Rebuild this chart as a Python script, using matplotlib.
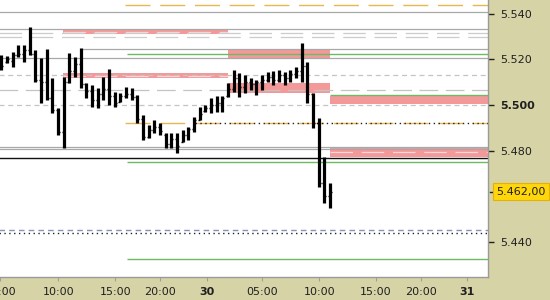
import numpy as np
import matplotlib.pyplot as plt

# bar data (30 min bars)
highs = [5.5219, 5.5215, 5.5232, 5.5263, 5.5263, 5.5342, 5.5241, 5.5206, 5.5245, 5.5118,
         5.4987, 5.5123, 5.5228, 5.5210, 5.5250, 5.5096, 5.5088, 5.5074, 5.5123, 5.5158,
         5.5057, 5.5053, 5.5079, 5.5074, 5.5044, 5.4956, 5.4912, 5.4934, 5.4921, 5.4877,
         5.4877, 5.4877, 5.4890, 5.4904, 5.4947, 5.4991, 5.5000, 5.5031, 5.5039, 5.5039,
         5.5096, 5.5153, 5.5140, 5.5131, 5.5118, 5.5110, 5.5131, 5.5145, 5.5149, 5.5153,
         5.5145, 5.5153, 5.5166, 5.5272, 5.5188, 5.5053, 5.4943, 5.4772, 5.4658]
lows = [5.5153, 5.5184, 5.5166, 5.5210, 5.5188, 5.5219, 5.5101, 5.5009, 5.5022, 5.4965,
        5.4869, 5.4812, 5.5096, 5.5123, 5.5074, 5.5031, 5.4991, 5.4987, 5.5022, 5.5000,
        5.4991, 5.5013, 5.5031, 5.5022, 5.4921, 5.4847, 5.4855, 5.4877, 5.4869, 5.4812,
        5.4812, 5.4790, 5.4838, 5.4847, 5.4882, 5.4934, 5.4969, 5.4965, 5.4969, 5.4969,
        5.5035, 5.5057, 5.5035, 5.5053, 5.5066, 5.5044, 5.5066, 5.5101, 5.5088, 5.5101,
        5.5088, 5.5101, 5.5118, 5.5101, 5.5009, 5.4899, 5.4641, 5.4571, 5.4549]
opens = [5.5190, 5.5190, 5.5195, 5.5220, 5.5225, 5.5240, 5.5225, 5.5110, 5.5100, 5.5030,
         5.4980, 5.4880, 5.5100, 5.5150, 5.5180, 5.5090, 5.5060, 5.5020, 5.5050, 5.5070,
         5.5040, 5.5015, 5.5040, 5.5050, 5.5035, 5.4940, 5.4860, 5.4890, 5.4905, 5.4870,
         5.4830, 5.4850, 5.4840, 5.4870, 5.4895, 5.4935, 5.4975, 5.4985, 5.5000, 5.5010,
         5.5040, 5.5070, 5.5120, 5.5080, 5.5100, 5.5090, 5.5100, 5.5110, 5.5125, 5.5110,
         5.5130, 5.5120, 5.5135, 5.5150, 5.5170, 5.5050, 5.4920, 5.4660, 5.4600]
closes = [5.5170, 5.5200, 5.5220, 5.5225, 5.5240, 5.5225, 5.5110, 5.5100, 5.5030, 5.4980,
          5.4880, 5.5100, 5.5150, 5.5180, 5.5090, 5.5060, 5.5020, 5.5050, 5.5070, 5.5040,
          5.5010, 5.5040, 5.5050, 5.5035, 5.4940, 5.4860, 5.4890, 5.4905, 5.4885, 5.4830,
          5.4850, 5.4820, 5.4870, 5.4895, 5.4935, 5.4960, 5.4985, 5.5000, 5.5010, 5.5030,
          5.5070, 5.5120, 5.5080, 5.5100, 5.5090, 5.5100, 5.5110, 5.5125, 5.5110, 5.5130,
          5.5120, 5.5135, 5.5150, 5.5170, 5.5050, 5.4920, 5.4660, 5.4600, 5.4620]

tick_pos = [-0.18, 10.05, 20.1, 28.0, 36.2, 45.9, 56.1, 66.1, 74.1, 82.2]
tick_labels = ['05:00', '10:00', '15:00', '20:00', '30', '05:00', '10:00', '15:00', '20:00', '31']
bold_labels = ['30', '31']

price_ticks = [5.440, 5.480, 5.500, 5.520, 5.540]
last_price = 5.462

# supply / demand zones
zone_lo = [5.5310, 5.5118, 5.5204, 5.5053, 5.5004, 5.4772]
zone_hi = [5.5330, 5.5140, 5.5247, 5.5096, 5.5039, 5.4816]
zone_start = [10.9, 10.9, 40.0, 40.0, 58.0, 58.0]
zone_end = [40.0, 40.0, 58.0, 58.0, 86.0, 86.0]
zone_inner = [True, True, False, False, False, True]

# horizontal levels
level_price = [5.5438, 5.5409, 5.5333, 5.5314, 5.5299, 5.5245, 5.5223, 5.5206, 5.5131,
               5.5066, 5.5044, 5.5000, 5.4921, 5.4921, 5.4818, 5.4807, 5.4768, 5.4750,
               5.4452, 5.4439, 5.4325]
level_start = [21.8, -1, -1, -1, -1, 14.2, 22.2, -1, -1,
               -1, 58.0, -1, 21.8, 34.2, -1, -1, -1, 22.2,
               -1, -1, 22.2]
level_kind = ['orange', 'gray', 'gray', 'ldash', 'ldash', 'gray', 'green', 'gray', 'sdash',
              'longdash', 'green', 'sdash', 'orange', 'dot', 'gray', 'gray', 'black', 'green',
              'blue', 'dot', 'green']

styles = {
    'orange': dict(color='#e8b850', lw=1.0, ls=(0, (18, 7))),
    'gray': dict(color='#a8a8a8', lw=0.9, ls='-'),
    'ldash': dict(color='#cccccc', lw=0.9, ls=(0, (18, 7))),
    'green': dict(color='#6cbb62', lw=1.0, ls='-'),
    'sdash': dict(color='#c4c4c4', lw=0.9, ls=(0, (4, 3))),
    'longdash': dict(color='#c4c4c4', lw=0.9, ls=(0, (15, 6))),
    'dot': dict(color='#202020', lw=1.0, ls=(0, (1, 2.5))),
    'black': dict(color='#111111', lw=1.0, ls='-'),
    'blue': dict(color='#8593b4', lw=1.0, ls=(0, (4, 3))),
}

bg = '#d6d3a6'
fig = plt.figure(figsize=(5.5, 3), dpi=100, facecolor=bg)
ax = fig.add_axes([0, 23 / 300, 488 / 550, 277 / 300])
ax.set_facecolor('white')
ax.set_xlim(-0.25, 85.85)
ax.set_ylim(5.4247, 5.546)

for lo, hi, s, e, inner in zip(zone_lo, zone_hi, zone_start, zone_end, zone_inner):
    ax.fill_between([s, e], lo, hi, color='#f4999a', lw=0, zorder=1)
    if inner:
        ax.hlines((lo + hi) / 2, s, e, color='#fbd6d6', lw=0.9, ls=(0, (18, 7)), zorder=1.5)

for p, s, k in zip(level_price, level_start, level_kind):
    st = styles[k]
    ax.hlines(p, s if s >= 0 else -1, 87, colors=st['color'], linewidth=st['lw'],
              linestyles=[st['ls']], zorder=2)

x = np.arange(len(highs))
ax.vlines(x, lows, highs, color='black', lw=2.3, zorder=5)
ax.hlines(opens, x - 0.35, x, color='black', lw=1.0, zorder=5)
ax.hlines(closes, x, x + 0.35, color='black', lw=1.0, zorder=5)

ax.set_xticks(tick_pos)
ax.set_xticklabels(tick_labels)
for t in ax.get_xticklabels():
    if t.get_text() in bold_labels:
        t.set_fontweight('bold')
ax.tick_params(axis='x', length=3, color='#a0a0a0', labelsize=8, pad=4, labelcolor='#202020')

ax.yaxis.tick_right()
ax.set_yticks(price_ticks)
ax.set_yticklabels(['%.3f' % v for v in price_ticks])
for t in ax.get_yticklabels():
    if t.get_text() == '5.500':
        t.set_fontweight('bold')
ax.tick_params(axis='y', length=4, width=1, color='#202020', labelsize=8, pad=5, labelcolor='#202020')

ax.text(1.017, last_price, '5.462,00', transform=ax.get_yaxis_transform(), fontsize=8,
        va='center', ha='left', color='#202020',
        bbox=dict(boxstyle='square,pad=0.3', facecolor='#ffd60a', edgecolor='#e8b000', lw=0.8))
ax.plot([1.004, 1.012], [last_price, last_price], transform=ax.get_yaxis_transform(),
        color='#202020', lw=1, clip_on=False)

for side in ['top', 'left']:
    ax.spines[side].set_visible(False)
for side in ['right', 'bottom']:
    ax.spines[side].set_color('#9a9a9a')
    ax.spines[side].set_linewidth(1)

fig.savefig('out.png', dpi=100, facecolor=bg)
